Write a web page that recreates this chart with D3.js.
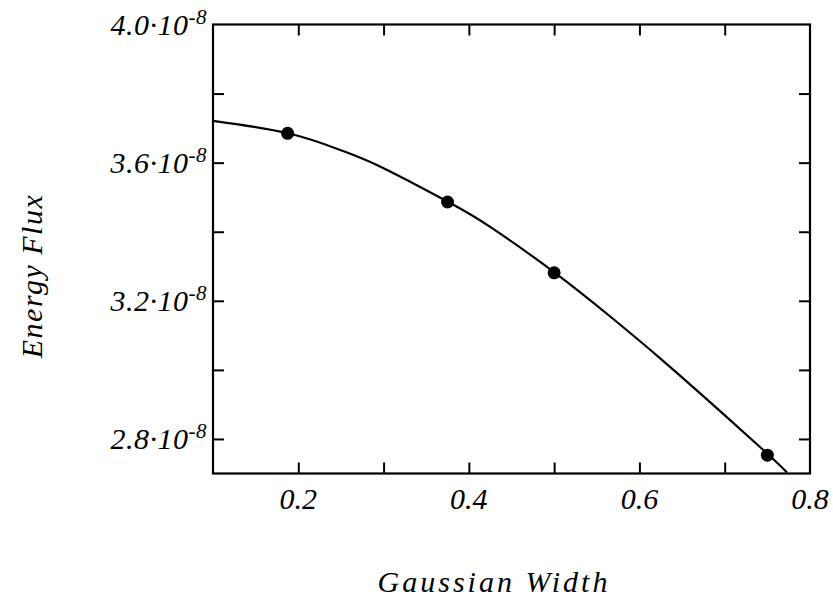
<!DOCTYPE html>
<html>
<head>
<meta charset="utf-8">
<script src="https://cdn.jsdelivr.net/npm/d3@7"></script>
<style>
body { margin: 0; background: #fff; }
text { font-family: "Liberation Serif", "Times New Roman", serif; font-style: italic; fill: #000; }
</style>
</head>
<body>
<script>
// measured points
const widthPts = [0.1875, 0.375, 0.5, 0.75];
const fluxPts = [3.685e-8, 3.486e-8, 3.281e-8, 2.753e-8];

// fitted curve
const fitWidth = [0.100, 0.188, 0.250, 0.300, 0.376, 0.425, 0.501, 0.569, 0.625, 0.689, 0.752, 0.773];
const fitFlux = [3.721e-8, 3.685e-8, 3.636e-8, 3.584e-8, 3.486e-8, 3.414e-8, 3.281e-8, 3.148e-8, 3.032e-8, 2.893e-8, 2.753e-8, 2.703e-8];

// ticks
const xTickVals = [0.2, 0.3, 0.4, 0.5, 0.6, 0.7];
const xLabelVals = [0.2, 0.4, 0.6, 0.8];
const xLabels = ['0.2', '0.4', '0.6', '0.8'];
const yTickVals = [2.8e-8, 3.0e-8, 3.2e-8, 3.4e-8, 3.6e-8, 3.8e-8];
const yLabelVals = [4.0e-8, 3.6e-8, 3.2e-8, 2.8e-8];
const yLabels = ['4.0', '3.6', '3.2', '2.8'];

let width = 833, height = 598;
let plotLeft = 213, plotRight = 810, plotTop = 24.5, plotBottom = 473.5;
let tick = 11;

let svg = d3.select('body')
    .append('svg')
    .attr('width', width)
    .attr('height', height)

let xScale = d3.scaleLinear().domain([0.1, 0.8]).range([plotLeft, plotRight])
let yScale = d3.scaleLinear().domain([2.7e-8, 4.0e-8]).range([plotBottom, plotTop])

// axes with inward ticks on all four sides
let axisStyle = g => {
    g.select('.domain').remove()
    g.selectAll('.tick line').attr('stroke', '#000').attr('stroke-width', 2)
    g.selectAll('.tick text').remove()
}
svg.append('g')
    .attr('transform', 'translate(0,' + plotBottom + ')')
    .call(d3.axisBottom(xScale).tickValues(xTickVals).tickSize(-tick))
    .call(axisStyle)
svg.append('g')
    .attr('transform', 'translate(0,' + plotTop + ')')
    .call(d3.axisTop(xScale).tickValues(xTickVals).tickSize(-tick))
    .call(axisStyle)
svg.append('g')
    .attr('transform', 'translate(' + plotLeft + ',0)')
    .call(d3.axisLeft(yScale).tickValues(yTickVals).tickSize(-tick))
    .call(axisStyle)
svg.append('g')
    .attr('transform', 'translate(' + plotRight + ',0)')
    .call(d3.axisRight(yScale).tickValues(yTickVals).tickSize(-tick))
    .call(axisStyle)

// frame
svg.append('rect')
    .attr('x', plotLeft).attr('y', plotTop)
    .attr('width', plotRight - plotLeft).attr('height', plotBottom - plotTop)
    .attr('fill', 'none').attr('stroke', '#000').attr('stroke-width', 2.2)

// x tick labels
svg.selectAll('.xlab')
    .data(xLabelVals)
    .enter()
    .append('text')
    .attr('class', 'xlab')
    .attr('x', d => xScale(d))
    .attr('y', 509)
    .attr('text-anchor', 'middle')
    .style('font-size', '30px')
    .text((d, i) => xLabels[i])

// y tick labels with superscript exponent
let ylab = svg.selectAll('.ylab')
    .data(yLabelVals)
    .enter()
    .append('text')
    .attr('class', 'ylab')
    .attr('x', 207)
    .attr('y', d => yScale(d) + 10)
    .attr('text-anchor', 'end')
    .style('font-size', '30px')
    .style('letter-spacing', '0.5px')
ylab.append('tspan').text((d, i) => yLabels[i] + '\u00b710')
ylab.append('tspan')
    .attr('dy', -11)
    .style('font-size', '21px')
    .text('-8')

// fitted curve
let line = d3.line()
    .x(d => xScale(d[0]))
    .y(d => yScale(d[1]))
    .curve(d3.curveNatural)
svg.append('path')
    .datum(d3.zip(fitWidth, fitFlux))
    .attr('d', line)
    .attr('fill', 'none')
    .attr('stroke', '#000')
    .attr('stroke-width', 2.2)

// points
svg.selectAll('circle')
    .data(d3.zip(widthPts, fluxPts))
    .enter()
    .append('circle')
    .attr('cx', d => xScale(d[0]))
    .attr('cy', d => yScale(d[1]))
    .attr('r', 6.5)
    .attr('fill', '#000')

// axis titles
svg.append('text')
    .attr('x', 494)
    .attr('y', 592)
    .attr('text-anchor', 'middle')
    .style('font-size', '30px')
    .style('letter-spacing', '3px')
    .text('Gaussian Width')

svg.append('text')
    .attr('transform', 'translate(42,276) rotate(-90)')
    .attr('text-anchor', 'middle')
    .style('font-size', '30px')
    .style('letter-spacing', '1.5px')
    .text('Energy Flux')
</script>
</body>
</html>
